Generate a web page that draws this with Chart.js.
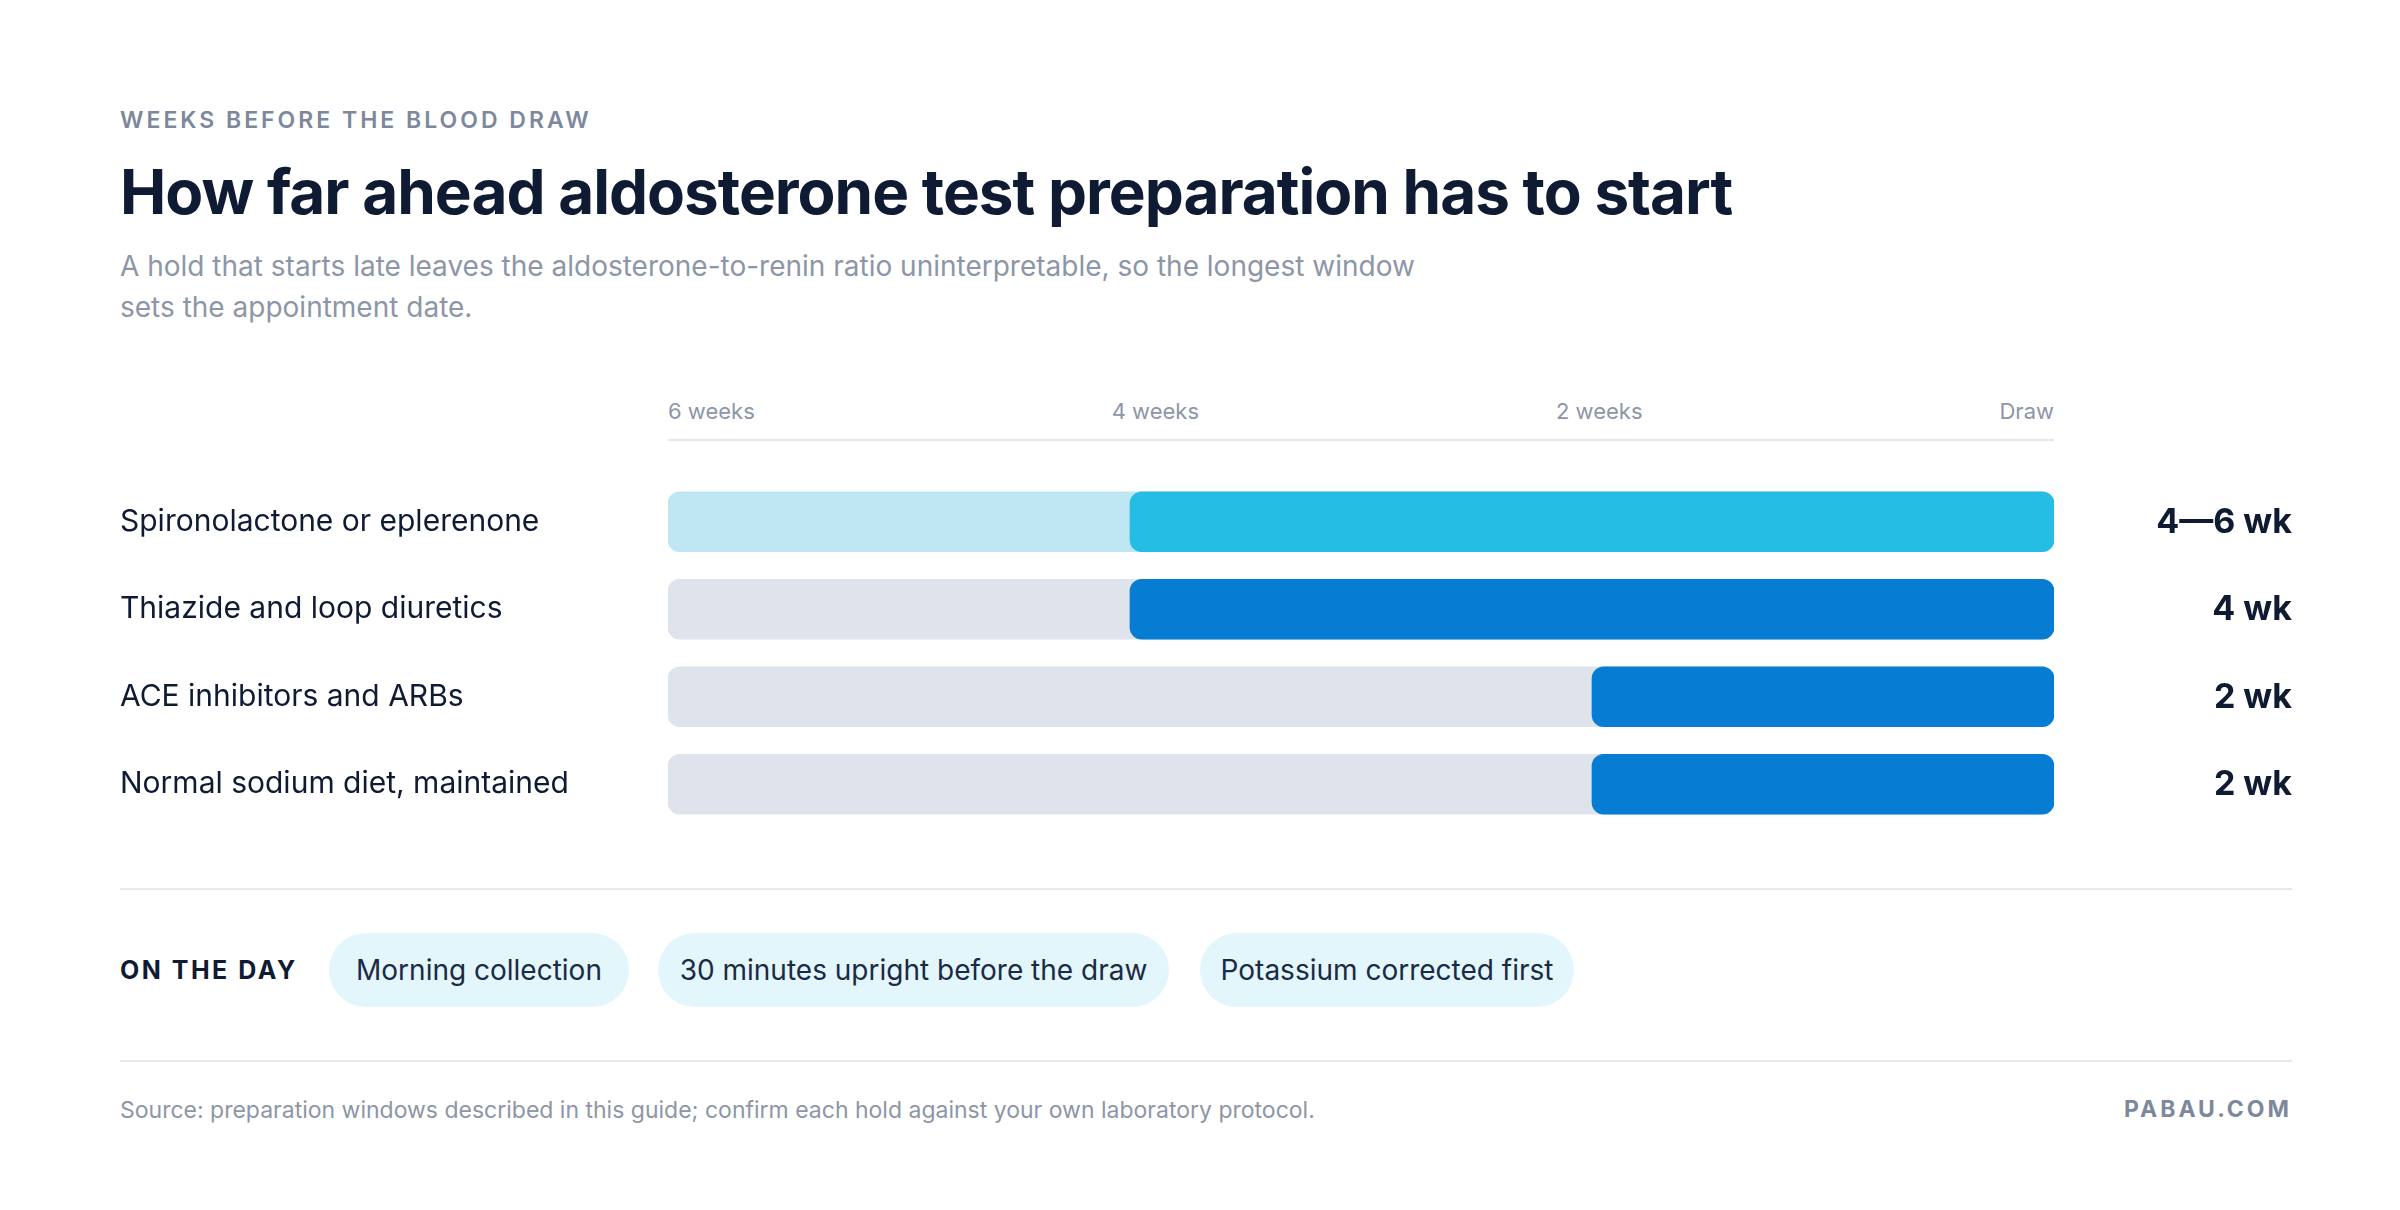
<!DOCTYPE html>
<html><head><meta charset="utf-8">
<script src="https://cdn.jsdelivr.net/npm/chart.js@4"></script>
<style>
body{margin:0;width:2400px;height:1210px;background:#fff;font-family:Inter,"Noto Sans",sans-serif;position:relative;overflow:hidden;color:#0f1a33}
.a{position:absolute;white-space:nowrap}
#eyebrow{left:120px;top:106px;font-size:23px;font-weight:600;letter-spacing:3px;color:#7d889c}
#title{left:120px;top:154px;font-size:62px;font-weight:700;letter-spacing:-1px;color:#0f1a33}
#sub{left:120px;top:246px;font-size:28px;line-height:41px;color:#8d96a7;white-space:normal;width:1300px}
#ticks{left:668px;top:398px;width:1386px;display:flex;justify-content:space-between;font-size:22px;color:#8d96a7}
#axis{left:668px;top:439px;width:1386px;height:2px;background:#e4e7ee}
.sep{left:120px;width:2172px;height:2px;background:#e6e9ef}
#onday{left:120px;top:955px;font-size:25px;font-weight:700;letter-spacing:2.5px;color:#0f1a33}
.chip{top:933px;height:74px;line-height:74px;background:#e3f6fb;border-radius:37px;font-size:28px;color:#1b2a45;text-align:center}
#src{left:120px;top:1096px;font-size:23px;color:#8d96a7}
#brand{right:108px;top:1095px;font-size:23px;font-weight:700;letter-spacing:3px;color:#7d889c}
#wrap{position:absolute;left:0;top:460px;width:2400px;height:386px}
</style></head><body>
<div class="a" id="eyebrow">WEEKS BEFORE THE BLOOD DRAW</div>
<div class="a" id="title">How far ahead aldosterone test preparation has to start</div>
<div class="a" id="sub">A hold that starts late leaves the aldosterone-to-renin ratio uninterpretable, so the longest window sets the appointment date.</div>
<div class="a" id="ticks"></div>
<div class="a" id="axis"></div>
<div id="wrap"><canvas id="c"></canvas></div>
<div class="a sep" style="top:888px"></div>
<div class="a" id="onday">ON THE DAY</div>
<div class="a chip" style="left:329px;width:300px">Morning collection</div>
<div class="a chip" style="left:658px;width:511px">30 minutes upright before the draw</div>
<div class="a chip" style="left:1200px;width:374px">Potassium corrected first</div>
<div class="a sep" style="top:1060px"></div>
<div class="a" id="src">Source: preparation windows described in this guide; confirm each hold against your own laboratory protocol.</div>
<div class="a" id="brand">PABAU.COM</div>
<script>
const categories=["Spironolactone or eplerenone","Thiazide and loop diuretics","ACE inhibitors and ARBs","Normal sodium diet, maintained"];
const holdMin=[4,4,2,2];
const holdMax=[6,4,2,2];
const valueLabels=["4\u20146 wk","4 wk","2 wk","2 wk"];
const tickLabels=["6 weeks","4 weeks","2 weeks","Draw"];
const axisMax=6;

document.getElementById('ticks').innerHTML=tickLabels.map(t=>'<span>'+t+'</span>').join('');
const trackColors=holdMin.map((v,i)=>holdMax[i]>v?'#bfe6f3':'#dfe3ec');
const fillColors=holdMin.map((v,i)=>holdMax[i]>v?'#25bde3':'#067dd3');
const valuePlugin={id:'vals',afterDatasetsDraw(ch){const c=ch.ctx;const y=ch.scales.y;c.save();c.font='700 34px Inter, sans-serif';c.fillStyle='#0f1a33';c.textAlign='right';c.textBaseline='middle';valueLabels.forEach((t,i)=>c.fillText(t,2292,y.getPixelForValue(i)+1));c.restore();}};
new Chart(document.getElementById('c'),{type:'bar',
data:{labels:categories,datasets:[
{data:holdMin.map((v,i)=>[0,v]),backgroundColor:fillColors,borderRadius:12,borderSkipped:false,barThickness:60,grouped:false,order:0},
{data:categories.map(()=>axisMax),backgroundColor:trackColors,borderRadius:12,borderSkipped:false,barThickness:60,grouped:false,order:1}
]},
options:{indexAxis:'y',responsive:true,maintainAspectRatio:false,devicePixelRatio:1,animation:false,
layout:{padding:{left:120,right:346,top:0,bottom:0}},
plugins:{legend:{display:false},tooltip:{enabled:false}},
scales:{x:{display:false,reverse:true,min:0,max:axisMax},
y:{grid:{display:false},border:{display:false},afterFit(s){s.width=548;},
ticks:{crossAlign:'far',padding:0,color:'#0f1a33',font:{family:'Inter',size:30}}}}},
plugins:[valuePlugin]});
</script></body></html>
